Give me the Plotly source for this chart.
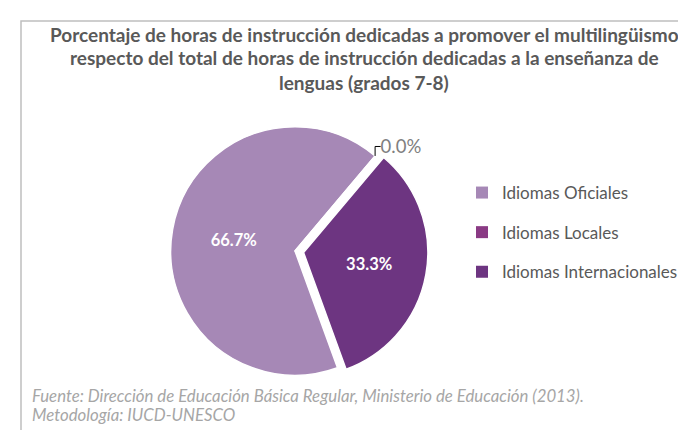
import plotly.graph_objects as go

# data
labels = ["Idiomas Oficiales", "Idiomas Locales", "Idiomas Internacionales"]
values = [66.7, 0.0, 33.3]
colors = ["#A688B6", "#8A3A84", "#6D3581"]
pulls = [0, 0, 0.07]
text_pos = ["inside", "outside", "inside"]
text_colors = ["white", "#808080", "white"]
text_sizes = [16.5, 18.5, 16.5]

title_lines = [
    "Porcentaje de horas de instrucción dedicadas a promover el multilingüismo",
    "respecto del total de horas de instrucción dedicadas a la enseñanza de",
    "lenguas (grados 7-8)",
]
footer_lines = [
    "Fuente: Dirección de Educación Básica Regular, Ministerio de Educación (2013).",
    "Metodología: IUCD-UNESCO",
]

W, H = 686, 430
FONT = "Lato"

cx, cy, half = 287, 243, 133  # pie placement in px

fig = go.Figure()

fig.add_trace(go.Pie(
    labels=labels, values=values,
    sort=False, direction="clockwise", rotation=160,
    pull=pulls,
    marker=dict(colors=colors, line=dict(color="white", width=1.5)),
    texttemplate=["<b>%{value:.1f}%</b>", "%{value:.1f}%", "<b>%{value:.1f}%</b>"],
    textposition=text_pos,
    insidetextorientation="horizontal",
    textfont=dict(family=FONT, size=text_sizes, color=text_colors),
    domain=dict(x=[(cx - half) / W, (cx + half) / W],
                y=[1 - (cy + half) / H, 1 - (cy - half) / H]),
    showlegend=False,
    hoverinfo="label+percent",
))

# legend entries with wider spacing than the pie legend allows
for lab, col in zip(labels, colors):
    fig.add_trace(go.Scatter(
        x=[None], y=[None], mode="markers", name=lab, legendgroup=lab,
        marker=dict(symbol="square", size=9, color=col),
    ))

ann = []
for i, t in enumerate(title_lines):
    ann.append(dict(text="<b>" + t + "</b>", x=356 / W, y=1 - (26 + 24 * i) / H,
                    xref="paper", yref="paper", showarrow=False,
                    xanchor="center", yanchor="middle",
                    font=dict(family=FONT, size=19, color="#595959")))
for i, t in enumerate(footer_lines):
    ann.append(dict(text="<i>" + t + "</i>", x=22 / W, y=1 - (387 + 19 * i) / H,
                    xref="paper", yref="paper", showarrow=False,
                    xanchor="left", yanchor="middle",
                    font=dict(family=FONT, size=16.8, color="#A6A6A6")))

fig.update_layout(
    width=W, height=H,
    margin=dict(l=0, r=0, t=0, b=0),
    paper_bgcolor="white", plot_bgcolor="white",
    xaxis=dict(visible=False), yaxis=dict(visible=False),
    annotations=ann,
    legend=dict(x=454 / W, y=1 - 167 / H, xanchor="left", yanchor="top",
                tracegroupgap=14.5, itemsizing="constant",
                font=dict(family=FONT, size=17, color="#595959"),
                bgcolor="rgba(0,0,0,0)"),
    shapes=[dict(type="rect", xref="paper", yref="paper",
                 x0=13 / W, x1=1.05, y0=-0.05, y1=1 - 13 / H,
                 line=dict(color="#BFBFBF", width=1.5))],
)

fig.write_html("out.html")
